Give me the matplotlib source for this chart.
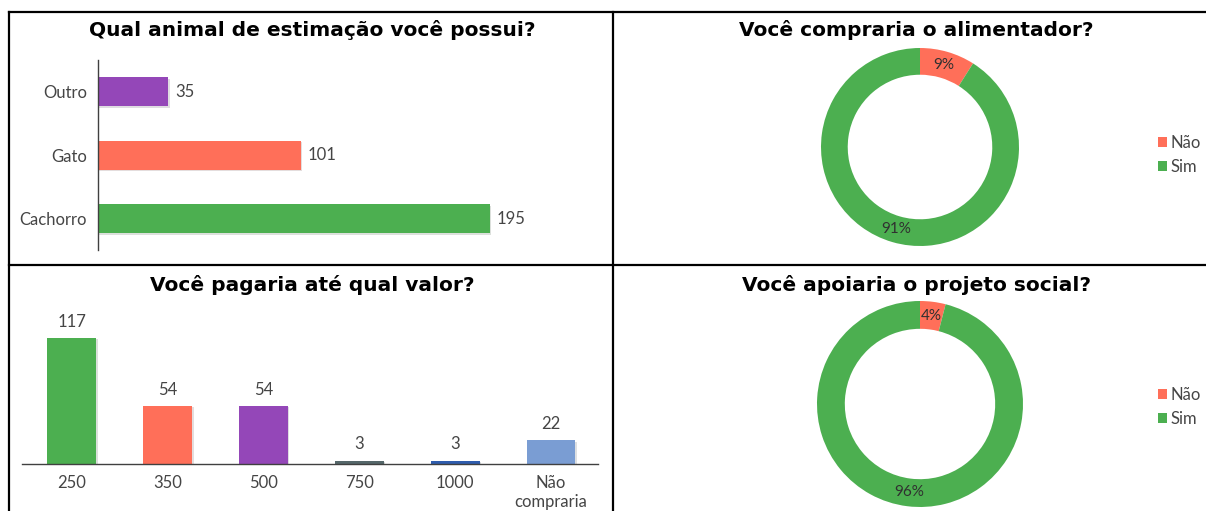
import numpy as np
import matplotlib
matplotlib.use("Agg")
from matplotlib import pyplot as plt
from matplotlib.lines import Line2D
import matplotlib.patheffects as pe

plt.rcParams["font.family"] = ["Lato", "DejaVu Sans"]

# pesquisa - animal de estimação
pets = ["Cachorro", "Gato", "Outro"]
pet_counts = [195, 101, 35]
pet_colors = ["#4CAF50", "#FF6F59", "#9447B8"]

# pesquisa - valor que pagaria
price_labels = ["250", "350", "500", "750", "1000", "Não\ncompraria"]
price_counts = [117, 54, 54, 3, 3, 22]
price_colors = ["#4CAF50", "#FF6F59", "#9447B8", "#55676A", "#2F5DAE", "#7A9DD3"]

# respostas sim / não (percentuais)
answer_labels = ["Não", "Sim"]
feeder_pct = [9, 91]
social_pct = [4, 96]
answer_colors = ["#FF6F59", "#4CAF50"]

W, H = 1206, 511
fig = plt.figure(figsize=(W / 100, H / 100), dpi=100)


def px_axes(x0, y0, x1, y1):
    # cria eixos a partir de coordenadas em pixels (origem no topo)
    return fig.add_axes([x0 / W, 1 - y1 / H, (x1 - x0) / W, (y1 - y0) / H])


text_color = "#454545"
label_kw = dict(fontsize=12, color=text_color)
shadow = [pe.SimplePatchShadow(offset=(1.0, -1.0), alpha=0.15), pe.Normal()]

# bordas dos quadros
border = dict(color="black", lw=1.6, transform=fig.transFigure)
fig.add_artist(Line2D([8.5 / W, 1], [1 - 12 / H, 1 - 12 / H], **border))
fig.add_artist(Line2D([8.5 / W, 1], [1 - 264.5 / H, 1 - 264.5 / H], **border))
fig.add_artist(Line2D([8.5 / W, 8.5 / W], [0, 1 - 12 / H], **border))
fig.add_artist(Line2D([613 / W, 613 / W], [0, 1 - 12 / H], **border))

title_kw = dict(fontsize=14.5, fontweight="bold", family="DejaVu Sans",
                color="black", ha="center", va="center")

# ---- barras horizontais ----
ax1 = px_axes(98, 60, 600, 250)
y = np.arange(len(pets))
bars = ax1.barh(y, pet_counts, height=0.46, color=pet_colors)
for b in bars:
    b.set_path_effects(shadow)
for yi, v in zip(y, pet_counts):
    ax1.annotate(str(v), (v, yi), xytext=(5, 0), textcoords="offset points",
                 va="center", ha="left", **label_kw)
ax1.set_xlim(0, 250)
ax1.set_ylim(-0.49, 2.5)
ax1.set_yticks(y)
ax1.set_yticklabels(pets, **label_kw)
ax1.tick_params(axis="y", length=0, pad=8)
ax1.set_xticks([])
for s in ["top", "right", "bottom"]:
    ax1.spines[s].set_visible(False)
ax1.spines["left"].set_color("#404040")
ax1.spines["left"].set_linewidth(1.0)
fig.text(312 / W, 1 - 30 / H, "Qual animal de estimação você possui?", **title_kw)

# ---- barras verticais ----
ax2 = px_axes(22, 310, 598, 464)
x = np.arange(len(price_labels))
bars = ax2.bar(x, price_counts, width=0.51, color=price_colors)
for b in bars:
    b.set_path_effects(shadow)
for xi, v in zip(x, price_counts):
    ax2.annotate(str(v), (xi, v), xytext=(0, 6), textcoords="offset points",
                 ha="center", va="bottom", **label_kw)
ax2.set_xlim(-0.52, 5.49)
ax2.set_ylim(0, 143)
ax2.set_xticks(x)
ax2.set_xticklabels(price_labels, linespacing=1.2, **label_kw)
ax2.tick_params(axis="x", length=0, pad=8)
ax2.set_yticks([])
for s in ["top", "right", "left"]:
    ax2.spines[s].set_visible(False)
ax2.spines["bottom"].set_color("#404040")
ax2.spines["bottom"].set_linewidth(1.0)
fig.text(312 / W, 1 - 285 / H, "Você pagaria até qual valor?", **title_kw)


# ---- roscas ----
def donut(ax, values):
    wedges, _ = ax.pie(values, colors=answer_colors, startangle=90, counterclock=False,
                       radius=1, wedgeprops=dict(width=0.27, edgecolor="none"))
    total = sum(values)
    ang = 90.0
    for v in values:
        mid = np.deg2rad(ang - 360 * v / total / 2)
        ax.text(0.865 * np.cos(mid), 0.865 * np.sin(mid), f"{v}%", ha="center",
                va="center", fontsize=11, color="#303030")
        ang -= 360 * v / total
    ax.set_xlim(-1, 1)
    ax.set_ylim(-1, 1)
    ax.set_aspect("equal")
    return wedges


legend_kw = dict(loc="center left", frameon=False, fontsize=12, handlelength=0.55,
                 handleheight=0.55, handletextpad=0.2, labelspacing=0.45, borderpad=0,
                 borderaxespad=0, labelcolor=text_color)

ax3 = px_axes(821, 48, 1019, 246)
w3 = donut(ax3, feeder_pct)
fig.text(916 / W, 1 - 30 / H, "Você compraria o alimentador?", **title_kw)
fig.legend(w3, answer_labels, bbox_to_anchor=(1158 / W, 1 - 155 / H), **legend_kw)

ax4 = px_axes(817, 301, 1023, 507)
w4 = donut(ax4, social_pct)
fig.text(916 / W, 1 - 285 / H, "Você apoiaria o projeto social?", **title_kw)
fig.legend(w4, answer_labels, bbox_to_anchor=(1158 / W, 1 - 407 / H), **legend_kw)

fig.savefig("out.png", dpi=100)
